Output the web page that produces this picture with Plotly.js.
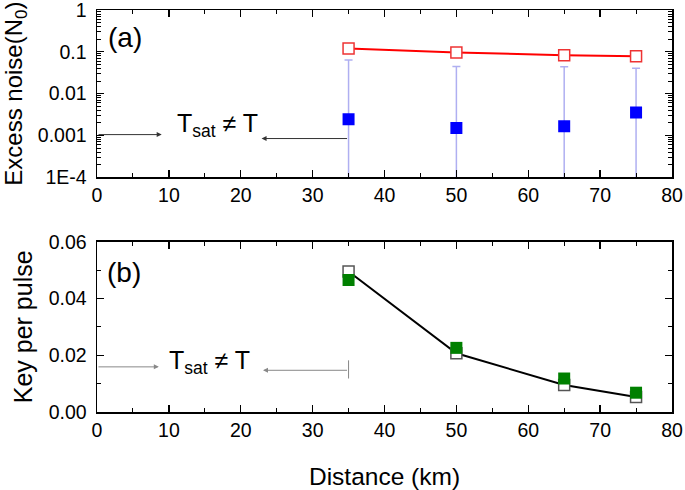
<!DOCTYPE html>
<html>
<head>
<meta charset="utf-8">
<script src="https://cdn.plot.ly/plotly-3.0.1.min.js"></script>
<style>
  html, body { margin: 0; padding: 0; background: #fff; }
  #chart { width: 685px; height: 490px; }
</style>
</head>
<body>
<div id="chart"></div>
<script>
// ---- Data ----
const distance = [35, 50, 65, 75];                       // km
const excessNoiseOpen = [0.12, 0.097, 0.083, 0.078];     // red open squares (N0)
const excessNoiseFilled = [0.00245, 0.00152, 0.00167, 0.00353]; // blue filled squares (N0)
const excessNoiseErr = [0.061, 0.0428, 0.0426, 0.0369];  // error bar half-length (N0)
const keyOpen = [0.0495, 0.0207, 0.0095, 0.0053];        // open squares, key per pulse
const keyFilled = [0.0465, 0.0226, 0.0118, 0.0068];      // green filled squares, key per pulse

const logTickVals = [1e-4, 1e-3, 1e-2, 1e-1, 1];
const logTickText = ['1E-4', '0.001', '0.01', '0.1', '1'];
const xTickVals = [0, 10, 20, 30, 40, 50, 60, 70, 80];
const keyTickVals = [0, 0.02, 0.04, 0.06];

// minor ticks for the log axis (2..9 in each decade)
const logMinor = [];
for (let e = -4; e < 0; e++) {
  for (let d = 2; d <= 9; d++) logMinor.push(d * Math.pow(10, e));
}

const FONT = 'Liberation Sans, Arial, Helvetica, sans-serif';
const TICKSIZE = 19.5;
const TITLESIZE = 24;

const traces = [
  {
    x: distance, y: excessNoiseFilled, xaxis: 'x', yaxis: 'y',
    type: 'scatter', mode: 'markers',
    marker: { symbol: 'square', size: 12, color: '#0000ff', line: { width: 0 } },
    error_y: { type: 'data', array: excessNoiseErr, symmetric: true, visible: true,
               color: 'rgba(110,110,230,0.55)', thickness: 1.5, width: 4 },
    showlegend: false
  },
  {
    x: distance, y: excessNoiseOpen, xaxis: 'x', yaxis: 'y',
    type: 'scatter', mode: 'lines+markers',
    line: { color: '#ff0000', width: 2 },
    marker: { symbol: 'square', size: 11, color: '#ffffff', line: { color: '#ee3333', width: 1.5 } },
    showlegend: false
  },
  {
    x: distance, y: keyOpen, xaxis: 'x2', yaxis: 'y2',
    type: 'scatter', mode: 'lines+markers',
    line: { color: '#000000', width: 2 },
    marker: { symbol: 'square', size: 11, color: '#ffffff', line: { color: '#555555', width: 1.5 } },
    showlegend: false
  },
  {
    x: distance, y: keyFilled, xaxis: 'x2', yaxis: 'y2',
    type: 'scatter', mode: 'markers',
    marker: { symbol: 'square', size: 12, color: '#008000', line: { width: 0 } },
    showlegend: false
  }
];

const xCommon = {
  range: [0, 80], tickvals: xTickVals, ticks: 'inside', ticklen: 7, tickwidth: 1.3,
  tickcolor: '#000', showline: true, linecolor: '#000', linewidth: 1.5, mirror: 'allticks',
  showgrid: false, zeroline: false, tickfont: { family: FONT, size: TICKSIZE, color: '#000' },
  ticklabeloverflow: 'allow',
  minor: { dtick: 5, ticks: 'inside', ticklen: 4, tickwidth: 1.1, tickcolor: '#000', showgrid: false }
};

const layout = {
  width: 685, height: 490,
  margin: { l: 97, r: 13, t: 10, b: 78 },
  paper_bgcolor: '#fff', plot_bgcolor: '#fff',
  font: { family: FONT, color: '#000' },
  showlegend: false,
  xaxis: Object.assign({}, xCommon, { anchor: 'y', domain: [0, 1] }),
  yaxis: {
    type: 'log', range: [-4, 0], domain: [0.5838, 1], anchor: 'x',
    tickmode: 'array', tickvals: logTickVals, ticktext: logTickText,
    ticks: 'inside', ticklen: 7, tickwidth: 1.3, tickcolor: '#000',
    showline: true, linecolor: '#000', linewidth: 1.5, mirror: 'allticks',
    showgrid: false, zeroline: false, tickfont: { family: FONT, size: TICKSIZE, color: '#000' },
    ticklabeloverflow: 'allow', ticklabelstandoff: 5,
    minor: { tickmode: 'array', tickvals: logMinor, ticks: 'inside', ticklen: 4, tickwidth: 1, tickcolor: '#000', showgrid: false },
    title: { text: 'Excess noise(N<sub>0</sub>)', font: { family: FONT, size: TITLESIZE, color: '#000' }, standoff: 9 },
    automargin: false
  },
  xaxis2: Object.assign({}, xCommon, { anchor: 'y2', domain: [0, 1],
    title: { text: 'Distance (km)', font: { family: FONT, size: 24.5, color: '#000' }, standoff: 30 } }),
  yaxis2: {
    range: [0, 0.06], domain: [0, 0.4236], anchor: 'x2',
    tickvals: keyTickVals, tickformat: '.2f',
    ticks: 'inside', ticklen: 7, tickwidth: 1.3, tickcolor: '#000',
    showline: true, linecolor: '#000', linewidth: 1.5, mirror: 'allticks',
    showgrid: false, zeroline: false, tickfont: { family: FONT, size: TICKSIZE, color: '#000' },
    ticklabeloverflow: 'allow', ticklabelstandoff: 5,
    minor: { dtick: 0.01, ticks: 'inside', ticklen: 4, tickwidth: 1.1, tickcolor: '#000', showgrid: false },
    title: { text: 'Key per pulse', font: { family: FONT, size: 25, color: '#000' }, standoff: 9 },
    automargin: false
  },
  annotations: [
    // panel labels
    { xref: 'x', yref: 'y', x: 3.96, y: Math.log10(0.222), text: '(a)', showarrow: false,
      font: { family: FONT, size: 28, color: '#000' } },
    { xref: 'x2', yref: 'y2', x: 3.7, y: 0.0493, text: '(b)', showarrow: false,
      font: { family: FONT, size: 28, color: '#000' } },
    // panel (a) annotation
    { xref: 'x', yref: 'y', x: 16.7, y: Math.log10(0.00175), text: 'T<sub>sat</sub> ≠ T', showarrow: false,
      font: { family: FONT, size: 25, color: '#000' } },
    { xref: 'x', yref: 'y', axref: 'x', ayref: 'y', x: 9, y: Math.log10(0.00105), ax: 0, ay: Math.log10(0.00105),
      text: '', showarrow: true, arrowhead: 2, arrowsize: 1, arrowwidth: 1, arrowcolor: '#333', standoff: 0, startstandoff: 0 },
    { xref: 'x', yref: 'y', axref: 'x', ayref: 'y', x: 22.9, y: Math.log10(0.000845), ax: 35, ay: Math.log10(0.000845),
      text: '', showarrow: true, arrowhead: 2, arrowsize: 1, arrowwidth: 1, arrowcolor: '#333', standoff: 0, startstandoff: 0 },
    // panel (b) annotation
    { xref: 'x2', yref: 'y2', x: 15.6, y: 0.0176, text: 'T<sub>sat</sub> ≠ T', showarrow: false,
      font: { family: FONT, size: 25, color: '#000' } },
    { xref: 'x2', yref: 'y2', axref: 'x2', ayref: 'y2', x: 8.6, y: 0.0159, ax: 0, ay: 0.0159,
      text: '', showarrow: true, arrowhead: 2, arrowsize: 1, arrowwidth: 1, arrowcolor: '#888', standoff: 0, startstandoff: 0 },
    { xref: 'x2', yref: 'y2', axref: 'x2', ayref: 'y2', x: 23.1, y: 0.0147, ax: 35, ay: 0.0147,
      text: '', showarrow: true, arrowhead: 2, arrowsize: 1, arrowwidth: 1, arrowcolor: '#888', standoff: 0, startstandoff: 0 }
  ],
  shapes: [
    { type: 'line', xref: 'x', yref: 'y', x0: 35, x1: 35, y0: Math.log10(0.0014), y1: Math.log10(0.00045),
      line: { color: '#555', width: 1 } },
    { type: 'line', xref: 'x2', yref: 'y2', x0: 35, x1: 35, y0: 0.0182, y1: 0.0118,
      line: { color: '#888', width: 1 } }
  ]
};

Plotly.newPlot('chart', traces, layout, { displayModeBar: false, staticPlot: true });
</script>
</body>
</html>
